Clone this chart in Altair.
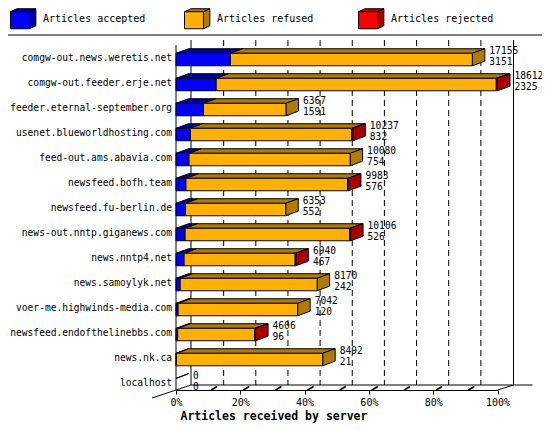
import pandas as pd
import altair as alt

# data (innreport "articles received by server")
servers = ['comgw-out.news.weretis.net', 'comgw-out.feeder.erje.net',
           'feeder.eternal-september.org', 'usenet.blueworldhosting.com',
           'feed-out.ams.abavia.com', 'newsfeed.bofh.team', 'newsfeed.fu-berlin.de',
           'news-out.nntp.giganews.com', 'news.nntp4.net', 'news.samoylyk.net',
           'voer-me.highwinds-media.com', 'newsfeed.endofthelinebbs.com',
           'news.nk.ca', 'localhost']
total = [17155, 18612, 6367, 10237, 10080, 9983, 6353, 10106, 6940, 8170, 7042, 4606, 8492, 0]
accepted = [3151, 2325, 1591, 832, 754, 576, 552, 526, 467, 242, 120, 96, 21, 0]
rejected = [0, 70, 0, 60, 0, 50, 0, 50, 40, 0, 0, 40, 0, 0]
ticks = [10, 20, 30, 40, 50, 60, 70, 80, 90]

segments = ['Articles accepted', 'Articles refused', 'Articles rejected']
front_col = ['#0000FF', '#FFB000', '#FF0000']
dark_col = ['#0000A8', '#B07C00', '#AA0000']

FONT = 'DejaVu Sans Mono'
W, H = 321.5, 345
NROWS = 13.8
DX = 12.5 / (W / 100)      # bar depth in percent units
DY = 4.6 / (H / NROWS)     # bar depth in row units
FT, FB = 0.333, 0.83       # front face top/bottom inside a row

maxv = max(total)

fronts, faces, ends = [], [], []
fid = 0


def add_top(x0, x1, yt, shade):
    global fid
    fid += 1
    for x in sorted([x0, x0 + DX, x1, x1 + DX]):
        up = yt - DY * min(max((x - x0) / DX, 0), 1)
        lo = yt - DY * min(max((x - x1) / DX, 0), 1)
        faces.append(dict(face=fid, x=x, up=up, lo=lo, shade=shade))


for i, (t, a, rj) in enumerate(zip(total, accepted, rejected)):
    counts = [a, t - a - rj, rj]
    yt, yb = i + FT, i + FB
    start, last = 0, None
    for k, c in enumerate(counts):
        if c <= 0:
            continue
        x0, x1 = start / maxv * 100, (start + c) / maxv * 100
        fronts.append(dict(seg=segments[k], x0=x0, x1=x1, yt=yt, yb=yb))
        add_top(x0, x1, yt, segments[k])
        start += c
        last = k
    xe = t / maxv * 100
    if last is None:
        add_top(0, 0, yt, 'none')
    else:
        fid += 1
        faces.append(dict(face=fid, x=xe, up=yt, lo=yb, shade=segments[last]))
        faces.append(dict(face=fid, x=xe + DX, up=yt - DY, lo=yb - DY, shade=segments[last]))
    ends.append(dict(x=xe, y1=i + 0.24, y2=i + 0.67, t1=str(t), t2=str(a),
                     name=servers[i], yn=i + 0.52, zero=0))

fronts = pd.DataFrame(fronts)
faces = pd.DataFrame(faces)
ends = pd.DataFrame(ends)
grid = pd.DataFrame({'g': ticks})
one = pd.DataFrame({'v': [0]})

xs = alt.Scale(domain=[0, 100], nice=False, zero=False)
ys = alt.Scale(domain=[0, NROWS], nice=False, zero=False, reverse=True)

# legend cube: bright front square + dark top/side, from two stacked legends
cube_front = 'M-1,-0.54L0.46,-0.54L0.46,0.77L-1,0.77Z'
cube_back = ('M-1,-0.54L-0.51,-0.77L0.95,-0.77L0.46,-0.54Z'
             'M0.46,-0.54L0.95,-0.77L0.95,0.54L0.46,0.77Z')
legend_common = dict(title=None, orient='none', legendX=-166, legendY=-40,
                     direction='horizontal', symbolSize=676,
                     symbolStrokeColor='black', symbolStrokeWidth=1, symbolOpacity=1,
                     labelFont=FONT, labelFontSize=10, labelOffset=6,
                     columnPadding=36, gridAlign='all', labelLimit=300, padding=0)

xaxis = alt.Axis(values=[0, 10, 20, 30, 40, 50, 60, 70, 80, 90, 100],
                 labelExpr="datum.value + '%'", grid=False,
                 domainColor='black', tickColor='black', tickSize=4,
                 labelFont=FONT, labelFontSize=10, labelColor='black',
                 labelPadding=3, labelFlush=False,
                 title='Articles received by server', titleFont=FONT,
                 titleFontSize=11.5, titleFontWeight='bold', titleColor='black',
                 titleAnchor='start', titleAlign='left', titleX=4, titleY=26,
                 titleBaseline='middle')

# dashed grid on the back wall
gridlines = alt.Chart(grid).mark_rule(
    color='black', strokeDash=[6, 4], xOffset=15.5, yOffset=-5, y2Offset=-5
).encode(x=alt.X('g:Q', scale=xs, axis=xaxis), y=alt.datum(0, scale=ys), y2=alt.datum(NROWS))

def frame_rule(**kw):
    return alt.Chart(one).mark_rule(color='black', **kw)

front_left = frame_rule().encode(x=alt.datum(0), y=alt.datum(0), y2=alt.datum(NROWS))
back_left = frame_rule(xOffset=15, yOffset=-5, y2Offset=-5).encode(
    x=alt.datum(0), y=alt.datum(0), y2=alt.datum(NROWS))
back_right = frame_rule(xOffset=16, yOffset=-5, y2Offset=-5).encode(
    x=alt.datum(100), y=alt.datum(0), y2=alt.datum(NROWS))
back_floor = frame_rule(xOffset=15, x2Offset=35, yOffset=-5).encode(
    x=alt.datum(0), x2=alt.datum(100), y=alt.datum(NROWS))
left_diag = frame_rule(xOffset=-24, x2Offset=15, yOffset=8, y2Offset=-5).encode(
    x=alt.datum(0), x2=alt.datum(0), y=alt.datum(NROWS), y2=alt.datum(NROWS))
right_diag = frame_rule(x2Offset=16, y2Offset=-5).encode(
    x=alt.datum(100), x2=alt.datum(100), y=alt.datum(NROWS), y2=alt.datum(NROWS))
floor_ticks = alt.Chart(grid).mark_rule(
    color='black', strokeWidth=1.5, xOffset=3, x2Offset=9, y2Offset=-3.5
).encode(x='g:Q', x2='g:Q', y=alt.datum(NROWS), y2=alt.datum(NROWS))
separator = alt.Chart(one).mark_rule(color='black').encode(
    x=alt.value(-168), x2=alt.value(366), y=alt.value(-10))

# top and side faces of the 3d bars
depth = alt.Chart(faces).mark_area(
    orient='vertical', stroke='black', strokeWidth=1, interpolate='linear'
).encode(
    x='x:Q', y='up:Q', y2='lo:Q', detail='face:N',
    fill=alt.Fill('shade:N',
                  scale=alt.Scale(domain=segments + ['none'], range=dark_col + ['#FFFFFF']),
                  legend=alt.Legend(values=segments, symbolType=cube_back,
                                    labelColor='transparent', **legend_common))
)

front = alt.Chart(fronts).mark_rect(stroke='black', strokeWidth=1).encode(
    x='x0:Q', x2='x1:Q', y='yt:Q', y2='yb:Q',
    color=alt.Color('seg:N', scale=alt.Scale(domain=segments, range=front_col),
                    legend=alt.Legend(symbolType=cube_front, labelColor='black',
                                      **legend_common))
)

top_num = alt.Chart(ends).mark_text(
    font=FONT, fontSize=9.6, color='black', align='left', baseline='middle', dx=17
).encode(x='x:Q', y='y1:Q', text='t1:N')
bot_num = alt.Chart(ends).mark_text(
    font=FONT, fontSize=9.6, color='black', align='left', baseline='middle', dx=17
).encode(x='x:Q', y='y2:Q', text='t2:N')
names = alt.Chart(ends).mark_text(
    font=FONT, fontSize=9.6, color='black', align='right', baseline='middle', dx=-4
).encode(x='zero:Q', y='yn:Q', text='name:N')

chart = alt.layer(
    gridlines, back_left, back_right, back_floor, left_diag, right_diag, floor_ticks,
    front_left, separator, depth, front, top_num, bot_num, names
).resolve_scale(
    x='shared', y='shared'
).encode(
    x=alt.X(scale=xs), y=alt.Y(scale=ys, axis=None)
).properties(
    width=W, height=H, autosize='none',
    padding={'left': 168, 'top': 37, 'right': 44.5, 'bottom': 34},
    background='white'
).configure_view(stroke=None)

chart.save("out.html", embed_options={"renderer": "svg", "actions": False})
